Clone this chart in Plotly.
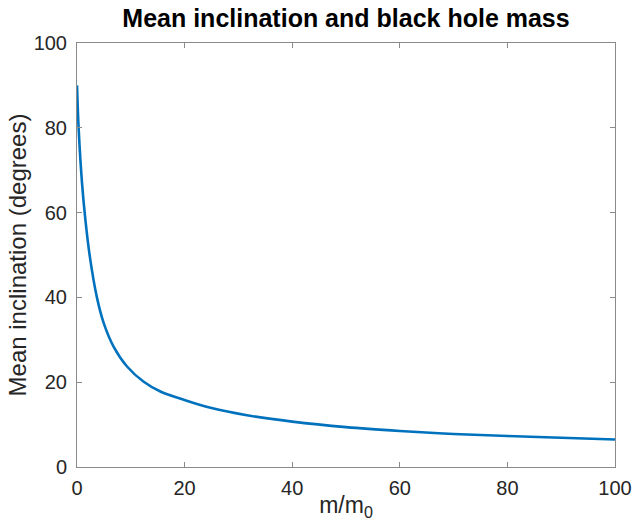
import plotly.graph_objects as go

# Black hole mass ratio m/m0 and mean orbital inclination (degrees)
mass_ratio = [0, 0.3, 0.93, 1.54, 2.4, 3.7, 4.95, 6.8, 9.3, 12.4, 15.5, 20,
              25, 31.6, 40, 50, 60, 70, 80, 90, 100]
mean_incl = [90, 80, 67, 58.5, 49.5, 40, 34, 28.4, 23.7, 20.1, 17.8, 15.8,
             13.9, 12.2, 10.7, 9.4, 8.5, 7.8, 7.3, 6.9, 6.5]

x_ticks = [0, 20, 40, 60, 80, 100]
y_ticks = [0, 20, 40, 60, 80, 100]

FONT = "Liberation Sans, Arial, Helvetica, sans-serif"
AXIS_COL = "#8a8a8a"
TEXT_COL = "#262626"

fig = go.Figure(
    go.Scatter(
        x=mass_ratio, y=mean_incl, mode="lines",
        line=dict(color="#0072BD", width=2.6, shape="spline", smoothing=1.0),
        hoverinfo="skip",
    )
)

axis_common = dict(
    showgrid=False, zeroline=False, showline=True, mirror="ticks",
    linecolor=AXIS_COL, linewidth=1, ticks="inside", ticklen=5,
    tickcolor=AXIS_COL, tickwidth=1, automargin=False,
    tickfont=dict(family=FONT, size=20, color=TEXT_COL),
)

fig.update_layout(
    width=634, height=521,
    margin=dict(l=77, r=19, t=43, b=54),
    paper_bgcolor="white", plot_bgcolor="white",
    showlegend=False,
    title=dict(
        text="<b>Mean inclination and black hole mass</b>",
        font=dict(family=FONT, size=25, color="black"),
        x=0.5, xref="paper", xanchor="center",
        y=0.965, yref="container", yanchor="middle",
    ),
    xaxis=dict(
        range=[0, 100], tickvals=x_ticks, ticklabelstandoff=3,
        title=dict(text="m/m<sub>0</sub>", standoff=0,
                   font=dict(family=FONT, size=23, color=TEXT_COL)),
        **axis_common,
    ),
    yaxis=dict(
        range=[0, 100], tickvals=y_ticks, ticklabelstandoff=5,
        title=dict(text="Mean inclination (degrees)", standoff=0,
                   font=dict(family=FONT, size=24, color=TEXT_COL)),
        **axis_common,
    ),
)

fig.write_html("out.html")
